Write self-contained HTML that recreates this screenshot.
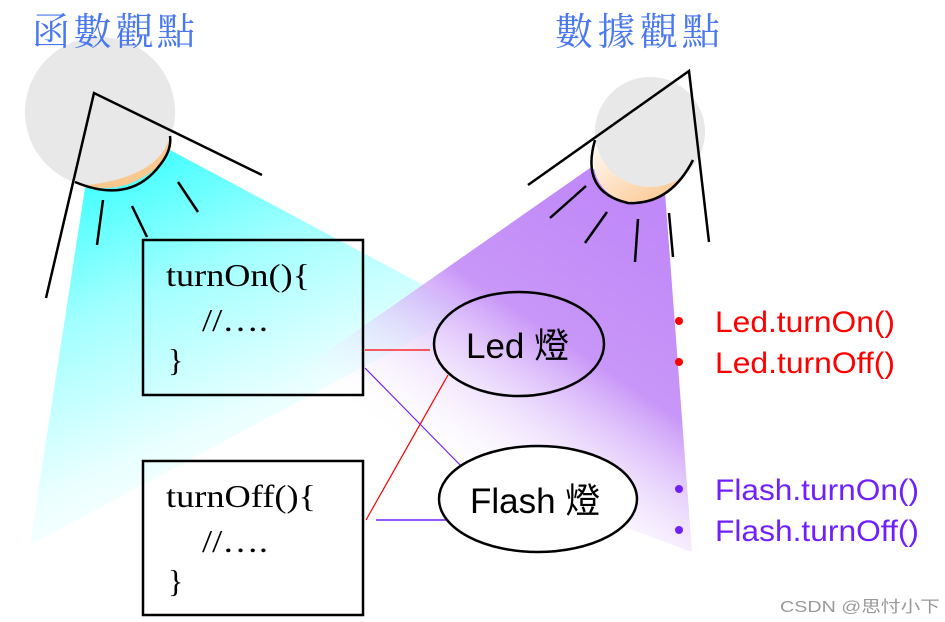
<!DOCTYPE html>
<html><head><meta charset="utf-8"><style>
html,body{margin:0;padding:0;background:#fff;}
svg{display:block;}
</style></head><body>
<svg width="945" height="622" viewBox="0 0 945 622" xmlns="http://www.w3.org/2000/svg">
<defs>
<linearGradient id="cy" x1="0.15" y1="0" x2="0.6" y2="0.95">
<stop offset="0" stop-color="#30ffff"/>
<stop offset="0.35" stop-color="#a0ffff"/>
<stop offset="0.7" stop-color="#e8ffff"/>
<stop offset="1" stop-color="#ffffff" stop-opacity="0"/>
</linearGradient>
<linearGradient id="pu" x1="0.9" y1="0.1" x2="0.3" y2="0.9">
<stop offset="0" stop-color="#c088f8"/>
<stop offset="0.4" stop-color="#c896f8"/>
<stop offset="0.85" stop-color="#ffffff" stop-opacity="0"/>
</linearGradient>
<linearGradient id="or" x1="0" y1="0" x2="1" y2="1">
<stop offset="0" stop-color="#ffffff"/>
<stop offset="1" stop-color="#fbbf80"/>
</linearGradient>
</defs>
<!-- beams -->
<polygon points="85,188 170,150 470,310 30,545" fill="url(#cy)"/>
<polygon points="590,168 665,192 692,552 265,395" fill="url(#pu)"/>

<!-- left lamp -->
<circle cx="100" cy="112" r="75" fill="#e8e8e8"/>
<path d="M75,182 Q120,200 160,165 Q172,150 170,136 Q160,176 88,185 Z" fill="#fbc890"/>
<path d="M75,182 Q130,205 160,165 Q172,150 170,136" fill="none" stroke="#000" stroke-width="2.5"/>
<g stroke="#000" stroke-width="2.5" fill="none">
<polyline points="46,298 94,93 262,175"/>
<line x1="103" y1="200" x2="97" y2="245"/>
<line x1="132" y1="206" x2="147" y2="237"/>
<line x1="178" y1="182" x2="198" y2="212"/>
</g>

<!-- right lamp -->
<path d="M595,140 Q585,190 628,203 Q670,205 693,160 L680,150 Q640,120 595,140 Z" fill="url(#or)"/>
<circle cx="650" cy="132" r="55" fill="#e8e8e8"/>
<path d="M595,140 Q580,192 628,203 Q670,205 693,160" fill="none" stroke="#000" stroke-width="2.5"/>
<g stroke="#000" stroke-width="2.5" fill="none">
<polyline points="528,185 689,71 709,242"/>
<line x1="586" y1="186" x2="550" y2="218"/>
<line x1="607" y1="212" x2="585" y2="243"/>
<line x1="638" y1="219" x2="635" y2="262"/>
<line x1="669" y1="213" x2="673" y2="257"/>
</g>

<text x="32" y="45" font-family="'Noto Serif CJK TC','Noto Sans CJK TC',serif" font-size="38" fill="#4a78f0" textLength="163">函數觀點</text>
<text x="555" y="45" font-family="'Noto Serif CJK TC','Noto Sans CJK TC',serif" font-size="38" fill="#4a78f0" textLength="165">數據觀點</text>

<!-- boxes -->
<rect x="143" y="240" width="220" height="155" fill="none" stroke="#000" stroke-width="2.5"/>
<rect x="143" y="461" width="220" height="154" fill="none" stroke="#000" stroke-width="2.5"/>
<g font-family="'Liberation Serif',serif" font-size="32" fill="#000">
<text x="166" y="286" textLength="144" lengthAdjust="spacingAndGlyphs">turnOn(){</text>
<text x="202" y="331" textLength="66" lengthAdjust="spacingAndGlyphs">//….</text>
<text x="168" y="371">}</text>
<text x="166" y="507" textLength="150" lengthAdjust="spacingAndGlyphs">turnOff(){</text>
<text x="202" y="552" textLength="66" lengthAdjust="spacingAndGlyphs">//….</text>
<text x="168" y="592">}</text>
</g>

<!-- connectors -->
<line x1="365" y1="350" x2="430" y2="350" stroke="#ff0000" stroke-width="1.2"/>
<line x1="365" y1="368" x2="465" y2="470" stroke="#7020ff" stroke-width="1.2"/>
<line x1="448" y1="375" x2="366" y2="520" stroke="#ff0000" stroke-width="1.2"/>
<line x1="376" y1="520" x2="448" y2="520" stroke="#7020ff" stroke-width="1.5"/>

<!-- ellipses -->
<ellipse cx="519" cy="344" rx="85" ry="52" fill="none" stroke="#000" stroke-width="2.5"/>
<ellipse cx="538" cy="499" rx="99" ry="53" fill="#fff" stroke="#000" stroke-width="2.5"/>
<g font-family="'Liberation Sans','Noto Sans CJK TC',sans-serif" font-size="35" fill="#000">
<text x="466" y="358">Led 燈</text>
<text x="470" y="513">Flash 燈</text>
</g>

<!-- bullets -->
<g font-family="'Liberation Sans',sans-serif" font-size="30">
<circle cx="679" cy="321" r="4" fill="#ff0000"/>
<circle cx="679" cy="362" r="4" fill="#ff0000"/>
<text x="715" y="332" fill="#ff0000" textLength="180" lengthAdjust="spacingAndGlyphs">Led.turnOn()</text>
<text x="715" y="373" fill="#ff0000" textLength="180" lengthAdjust="spacingAndGlyphs">Led.turnOff()</text>
<circle cx="679" cy="489" r="4" fill="#7020ff"/>
<circle cx="679" cy="530" r="4" fill="#7020ff"/>
<text x="715" y="500" fill="#7020ff" textLength="204" lengthAdjust="spacingAndGlyphs">Flash.turnOn()</text>
<text x="715" y="541" fill="#7020ff" textLength="204" lengthAdjust="spacingAndGlyphs">Flash.turnOff()</text>
</g>

<text x="780" y="612" font-family="'Liberation Sans','Noto Sans CJK SC',sans-serif" font-size="16" fill="#999" textLength="160" lengthAdjust="spacingAndGlyphs">CSDN @思忖小下</text>
</svg>
</body></html>
